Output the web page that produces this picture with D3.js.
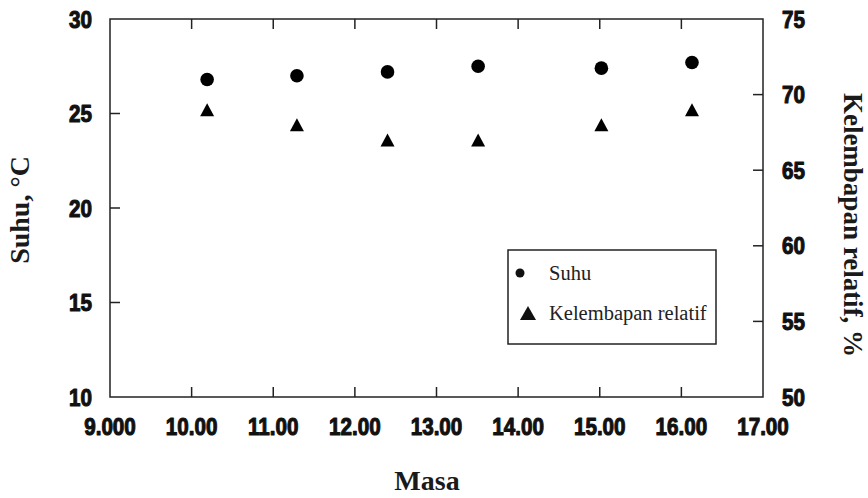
<!DOCTYPE html>
<html><head><meta charset="utf-8">
<script src="https://cdn.jsdelivr.net/npm/d3@7/dist/d3.min.js"></script>
<style>body{margin:0;background:#fff}</style>
</head><body>
<script>
const masa = [10.19, 11.29, 12.40, 13.51, 15.02, 16.13];
const suhu = [26.8, 27.0, 27.2, 27.5, 27.4, 27.7];
const kelembapan = [69, 68, 67, 67, 68, 69];
const xTicks = [9, 10, 11, 12, 13, 14, 15, 16, 17];
const xTickLabels = ["9.000","10.00","11.00","12.00","13.00","14.00","15.00","16.00","17.00"];
const yLeftTicks = [10, 15, 20, 25, 30];
const yRightTicks = [50, 55, 60, 65, 70, 75];
const legendItems = ["Suhu", "Kelembapan relatif"];

const W = 868, H = 498;
const L = 110, R = 763, T = 19, B = 397;
const svg = d3.select("body").append("svg").attr("width", W).attr("height", H);

const x = d3.scaleLinear().domain([9, 17]).range([L, R]);
const yL = d3.scaleLinear().domain([10, 30]).range([B, T]);
const yR = d3.scaleLinear().domain([50, 75]).range([B, T]);

const ink = "#111";
const tickFont = "'Liberation Sans', Arial, sans-serif";
function tickText(g, tx, ty, s, anchor) {
  g.append("text").attr("transform", `translate(${tx},${ty}) scale(0.86,1)`)
    .attr("text-anchor", anchor).attr("font-family", tickFont).attr("font-weight", "bold")
    .attr("font-size", 24).attr("fill", ink).attr("stroke", ink).attr("stroke-width", 1.1)
    .attr("stroke-linejoin", "round")
    .text(s);
}

// frame
svg.append("rect").attr("x", L).attr("y", T).attr("width", R - L).attr("height", B - T)
  .attr("fill", "none").attr("stroke", "#222").attr("stroke-width", 1.5);

const g = svg.append("g");
xTicks.forEach((t, i) => {
  if (i > 0 && i < xTicks.length - 1) {
    g.append("line").attr("x1", x(t)).attr("x2", x(t)).attr("y1", B).attr("y2", B - 10).attr("stroke", "#222").attr("stroke-width", 1.5);
    g.append("line").attr("x1", x(t)).attr("x2", x(t)).attr("y1", T).attr("y2", T + 10).attr("stroke", "#222").attr("stroke-width", 1.5);
  }
  tickText(g, x(t), 435, xTickLabels[i], "middle");
});
yLeftTicks.forEach((t, i) => {
  if (i > 0 && i < yLeftTicks.length - 1)
    g.append("line").attr("x1", L).attr("x2", L + 10).attr("y1", yL(t)).attr("y2", yL(t)).attr("stroke", "#222").attr("stroke-width", 1.5);
  tickText(g, 92, yL(t) + 8.5, String(t), "end");
});
yRightTicks.forEach((t, i) => {
  if (i > 0 && i < yRightTicks.length - 1)
    g.append("line").attr("x1", R).attr("x2", R - 10).attr("y1", yR(t)).attr("y2", yR(t)).attr("stroke", "#222").attr("stroke-width", 1.5);
  tickText(g, 782, yR(t) + 8.5, String(t), "start");
});

// markers
const tri = "M0,-6.5L7,6.5L-7,6.5Z";
svg.append("g").selectAll("circle").data(masa).join("circle")
  .attr("cx", (d) => x(d)).attr("cy", (d, i) => yL(suhu[i])).attr("r", 6.8).attr("fill", "#000");
svg.append("g").selectAll("path").data(masa).join("path")
  .attr("d", tri).attr("transform", (d, i) => `translate(${x(d)},${yR(kelembapan[i])})`).attr("fill", "#000");

// titles
const serif = "'Liberation Serif', 'Times New Roman', serif";
svg.append("text").attr("x", 427).attr("y", 490).attr("text-anchor", "middle")
  .attr("font-family", serif).attr("font-weight", "bold").attr("font-size", 28).attr("fill", "#1a1a1a").text("Masa");
svg.append("text").attr("transform", "translate(29,210) rotate(-90)").attr("text-anchor", "middle")
  .attr("font-family", serif).attr("font-weight", "bold").attr("font-size", 28).attr("fill", "#1a1a1a").text("Suhu, °C");
svg.append("text").attr("transform", "translate(844,225) rotate(90)").attr("text-anchor", "middle")
  .attr("font-family", serif).attr("font-weight", "bold").attr("font-size", 27).attr("fill", "#1a1a1a").text("Kelembapan relatif, %");

// legend
const lg = svg.append("g");
lg.append("rect").attr("x", 508).attr("y", 250).attr("width", 208).attr("height", 94)
  .attr("fill", "#fff").attr("stroke", "#222").attr("stroke-width", 1.5);
lg.append("circle").attr("cx", 520).attr("cy", 273).attr("r", 4.5).attr("fill", "#111");
lg.append("path").attr("d", "M0,-7L8,7L-8,7Z").attr("transform", "translate(528,313)").attr("fill", "#111");
lg.selectAll("text").data(legendItems).join("text")
  .attr("x", 549).attr("y", (d, i) => 280 + i * 40)
  .attr("font-family", serif).attr("font-size", 20.5).attr("fill", "#222").text((d) => d);
</script>
</body></html>
